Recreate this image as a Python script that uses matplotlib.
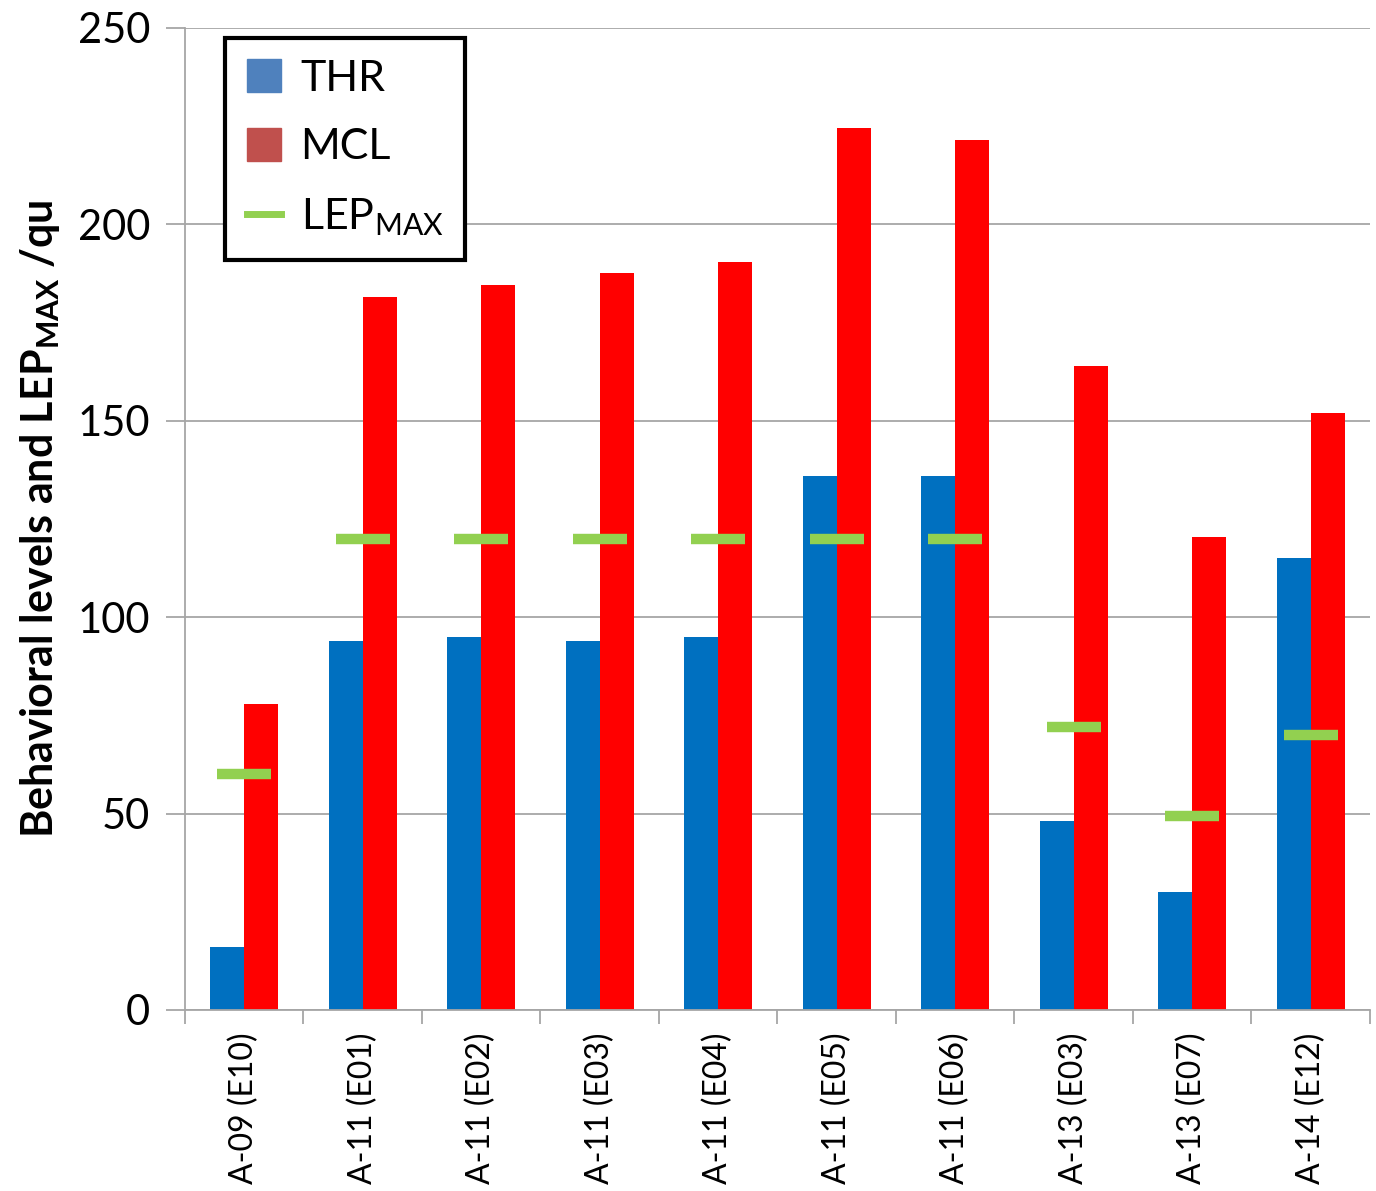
import numpy as np
import matplotlib
matplotlib.use("Agg")
import matplotlib.pyplot as plt
from matplotlib.patches import Patch
from matplotlib.lines import Line2D

# data
categories = ["A-09 (E10)", "A-11 (E01)", "A-11 (E02)", "A-11 (E03)", "A-11 (E04)",
              "A-11 (E05)", "A-11 (E06)", "A-13 (E03)", "A-13 (E07)", "A-14 (E12)"]
thr = [16, 94, 95, 94, 95, 136, 136, 48, 30, 115]
mcl = [78, 181.5, 184.5, 187.5, 190.5, 224.5, 221.5, 164, 120.5, 152]
lep_max = [60, 120, 120, 120, 120, 120, 120, 72, 49.5, 70]

plt.rcParams['font.family'] = ['Lato', 'DejaVu Sans']
plt.rcParams['mathtext.fontset'] = 'custom'
plt.rcParams['mathtext.rm'] = 'Lato'
plt.rcParams['mathtext.bf'] = 'Lato:bold'

fig = plt.figure(figsize=(13.76, 11.91), dpi=100)
ax = fig.add_axes([0.1344, 0.152, 0.8612, 0.8245])

x = np.arange(len(categories))
w = 0.287
ax.bar(x - w / 2, thr, width=w, color='#0070C0', zorder=2)
ax.bar(x + w / 2, mcl, width=w, color='#FF0000', zorder=2)
ax.hlines(lep_max, x - 0.227, x + 0.227, color='#92D050', linewidth=7.5, zorder=3)

ax.set_xlim(-0.5, len(categories) - 0.5)
ax.set_ylim(0, 250)
ax.set_yticks(np.arange(0, 251, 50))
ax.yaxis.grid(True, color='#A6A6A6', linewidth=1.3, zorder=0)
ax.set_axisbelow(True)

ax.set_xticks(x)
ax.set_xticklabels(categories, rotation=90, fontsize=23)
ax.set_xticks(np.arange(-0.5, len(categories)), minor=True)
ax.tick_params(axis='x', which='major', length=0, pad=16)
ax.tick_params(axis='x', which='minor', length=10, width=1.3, color='#A6A6A6')
ax.tick_params(axis='y', length=14, width=1.3, color='#A6A6A6', labelsize=30, pad=11)

for s in ['top', 'right']:
    ax.spines[s].set_visible(False)
for s in ['left', 'bottom']:
    ax.spines[s].set_color('#A6A6A6')
    ax.spines[s].set_linewidth(1.3)

ax.set_ylabel(r"Behavioral levels and LEP$_{\mathbf{MAX}}$ /qu", fontsize=31,
              fontweight='bold')
ax.yaxis.set_label_coords(-0.104, 0.50)

handles = [Patch(color='#4F81BD'), Patch(color='#C0504D'),
           Line2D([], [], color='#92D050', linewidth=5)]
leg = ax.legend(handles, ["THR", "MCL", r"LEP$_{\mathrm{MAX}}$"], loc='upper left',
                bbox_to_anchor=(0.034, 0.99), borderaxespad=0, fontsize=31,
                fancybox=False, edgecolor='black', handlelength=0.8, handleheight=0.8,
                labelspacing=0.7, handletextpad=0.45, borderpad=0.5)
leg.get_frame().set_linewidth(3)
leg.get_frame().set_alpha(1)

fig.savefig("out.png", dpi=100)
